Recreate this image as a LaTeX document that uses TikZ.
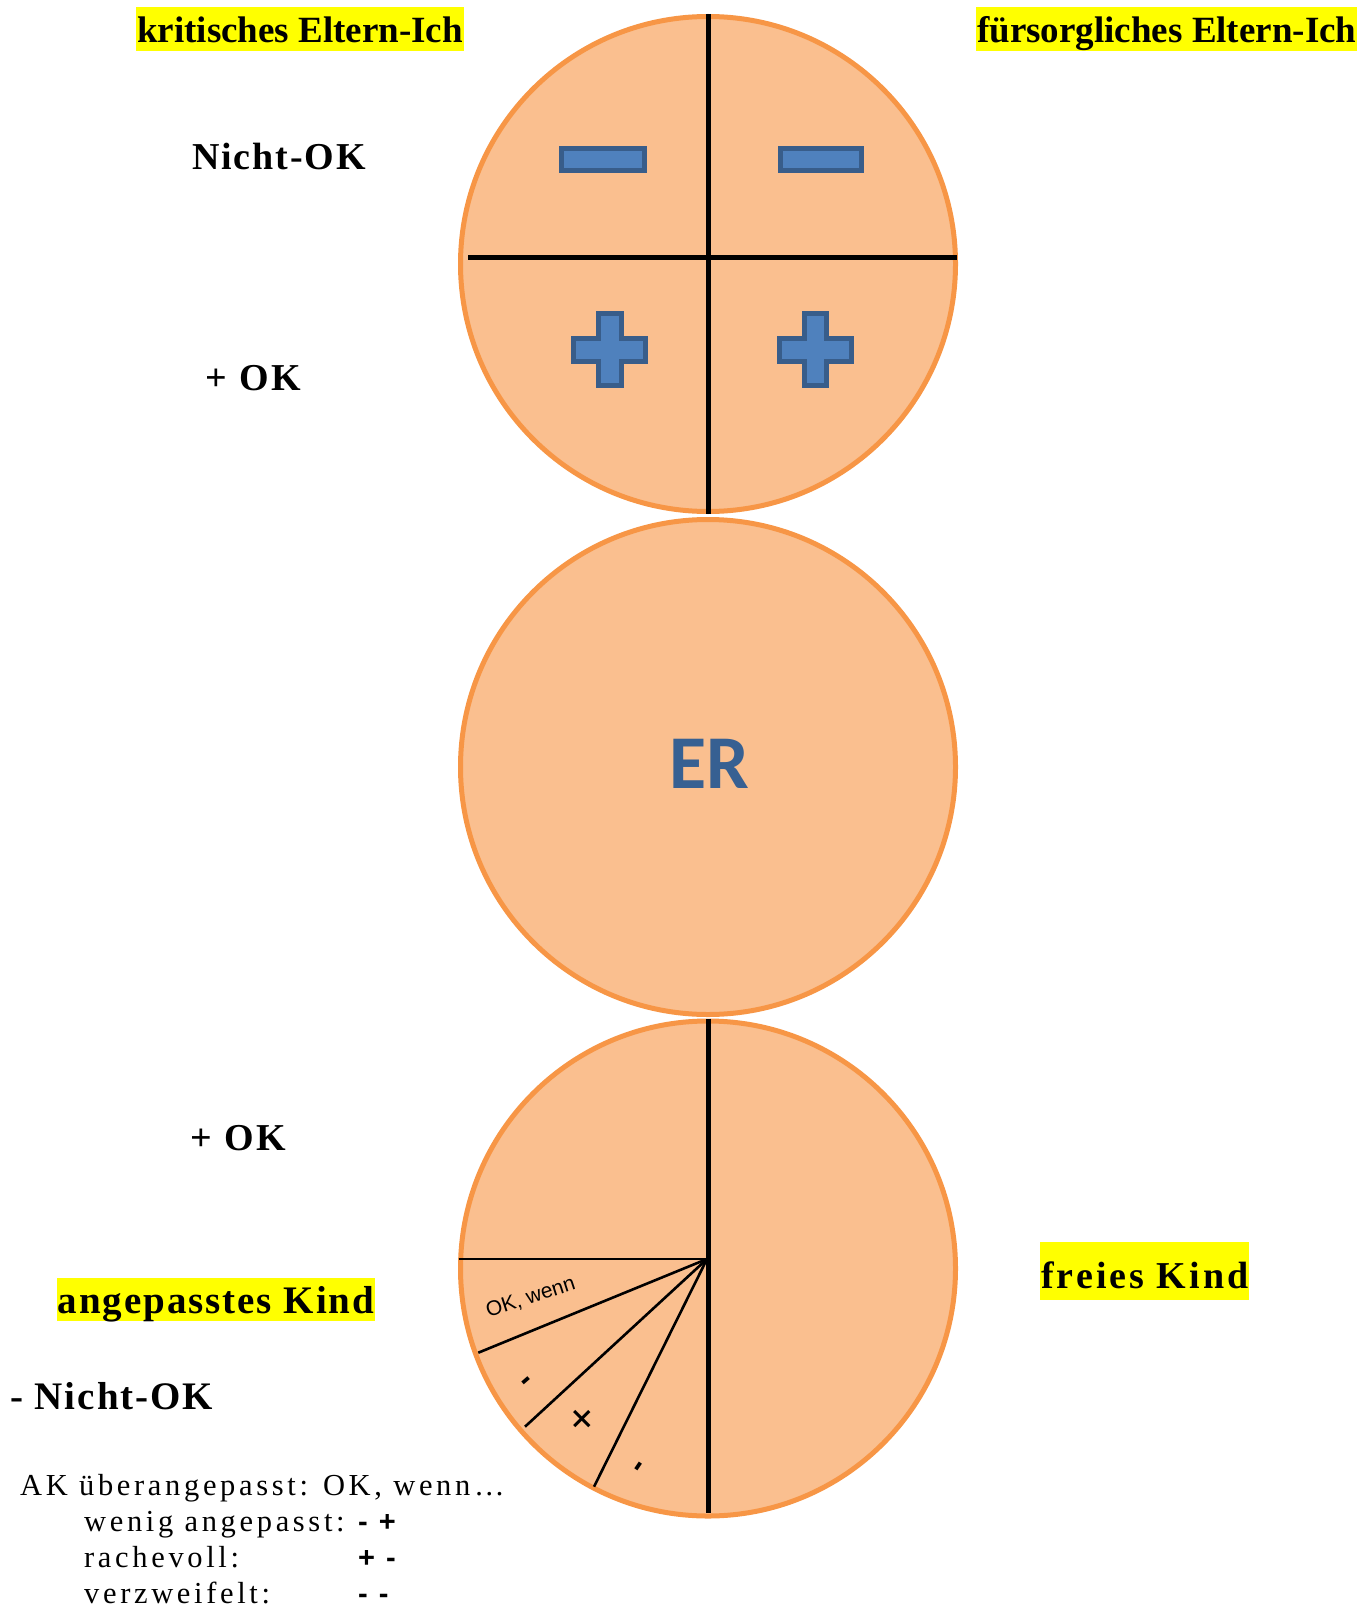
\documentclass[tikz,border=0pt]{standalone}
\usepackage{fontspec}
\setmainfont{Liberation Serif}
\newfontfamily\trackedserif[LetterSpace=5]{Liberation Serif}
\newfontfamily\widerserif[LetterSpace=8]{Liberation Serif}
\newfontfamily\looseserif[LetterSpace=12]{Liberation Serif}
\newfontfamily\labelsans{Liberation Sans}
\newfontfamily\ersans{Carlito}

\definecolor{ringfill}{RGB}{250,191,143}
\definecolor{ringline}{RGB}{247,150,70}
\definecolor{signfill}{RGB}{79,129,189}
\definecolor{signline}{RGB}{56,93,138}
\definecolor{ertext}{RGB}{55,96,146}
\definecolor{marker}{RGB}{255,255,0}

\tikzset{
  ring/.style={circle, draw=ringline, fill=ringfill, line width=5pt,
               minimum size=495pt, inner sep=0pt},
  divider/.style={line width=5pt},
  spoke/.style={line width=2.6pt},
  sign/.style={fill=signfill, draw=signline, line width=5pt},
  lbl/.style={inner sep=0pt, anchor=base west},
  hl/.style={lbl, fill=marker, inner xsep=1pt},
}

\begin{document}
\begin{tikzpicture}[x=1pt, y=-1pt]
\useasboundingbox (0,0) rectangle (1371,1605);

% --- the three ego states ---
\node[ring] (pe) at (708,264) {};
\node[ring] (er) at (708,767) {};
\node[inner sep=0pt] (ert) at (709.5,764)
  {\ersans\bfseries\fontsize{76}{80}\selectfont\color{ertext}ER};
\node[ring] (ck) at (708,1268.5) {};

% parent ego: four quadrants
\coordinate (peL) at (468,258);
\coordinate (peR) at (957,258);
\draw[divider] (pe.north) -- (pe.south);
\draw[divider] (peL) -- (peR);

% minus signs (upper quadrants)
\draw[sign] (561.5,148.5) rectangle (644.5,170.5);
\draw[sign] (780.5,148.5) rectangle (861.5,170.5);
% plus signs (lower quadrants)
\draw[sign] (598.5,313.5) -- (621.5,313.5) -- (621.5,338.5) -- (645.5,338.5)
  -- (645.5,361.5) -- (621.5,361.5) -- (621.5,385.5) -- (598.5,385.5)
  -- (598.5,361.5) -- (573.5,361.5) -- (573.5,338.5) -- (598.5,338.5) -- cycle;
\draw[sign] (804.5,313.5) -- (826.5,313.5) -- (826.5,338.5) -- (851.5,338.5)
  -- (851.5,361.5) -- (826.5,361.5) -- (826.5,385.5) -- (804.5,385.5)
  -- (804.5,361.5) -- (779.5,361.5) -- (779.5,338.5) -- (804.5,338.5) -- cycle;

% child ego: halves and the fan of the adapted child
\coordinate (ckB) at (708,1513);
\coordinate (hub) at (707,1259);
\coordinate (fanH) at (458.5,1259);
\coordinate (fanA) at (478.3,1352.7);
\coordinate (fanB) at (525,1426.7);
\coordinate (fanC) at (594,1486.7);
\draw[divider] (ck.north) -- (ckB);
\draw[spoke] (fanH) -- (hub);
\draw[spoke] (hub) -- (fanA);
\draw[spoke] (hub) -- (fanB);
\draw[spoke] (hub) -- (fanC);

\node[inner sep=0pt, rotate=18] (okw) at (530.7,1297.5)
  {\labelsans\fontsize{21}{24}\selectfont OK, wenn};
\node[inner sep=0pt, rotate=41] (mk1) at (528,1383)
  {\labelsans\bfseries\fontsize{32}{34}\selectfont -};
\node[inner sep=0pt, rotate=45] (mk2) at (584,1420)
  {\labelsans\fontsize{44}{46}\selectfont +};
\node[inner sep=0pt, rotate=56] (mk3) at (641,1468)
  {\labelsans\bfseries\fontsize{32}{34}\selectfont -};

% --- labels ---
\node[hl, text height=36pt, text depth=8pt] (kel) at (136,42.7)
  {\bfseries\fontsize{37}{44}\selectfont kritisches Eltern-Ich};
\node[hl, text height=36pt, text depth=8pt] (fel) at (976,42.7)
  {\bfseries\fontsize{37}{44}\selectfont fürsorgliches Eltern-Ich};

\node[lbl] (nok) at (192,169.3)
  {\trackedserif\bfseries\fontsize{38}{44}\selectfont Nicht-OK};
\node[lbl] (pok) at (205,390)
  {\widerserif\bfseries\fontsize{38}{44}\selectfont + OK};
\node[lbl] (cok) at (190,1150)
  {\widerserif\bfseries\fontsize{38}{44}\selectfont + OK};

\node[hl, text height=46.3pt, text depth=12pt] (fk) at (1040,1288)
  {\widerserif\bfseries\fontsize{38}{44}\selectfont freies Kind};
\node[hl, text height=35.3pt, text depth=7.7pt] (ak) at (56.5,1313.3)
  {\trackedserif\bfseries\fontsize{39}{44}\selectfont angepasstes Kind};
\node[lbl] (mnok) at (10,1409)
  {\trackedserif\bfseries\fontsize{39}{44}\selectfont - Nicht-OK};

% adapted child variants
\node[lbl] (v0) at (20,1495)
  {\looseserif\fontsize{30.5}{32}\selectfont AK überangepasst: OK, wenn…};
\node[lbl] (v1) at (84,1531)
  {\looseserif\fontsize{30.5}{32}\selectfont wenig angepasst:};
\node[lbl] (v2) at (84,1567)
  {\looseserif\fontsize{30.5}{32}\selectfont rachevoll:};
\node[lbl] (v3) at (84,1603)
  {\looseserif\fontsize{30.5}{32}\selectfont verzweifelt:};
\node[lbl] (s1) at (358,1531)
  {\labelsans\bfseries\fontsize{29}{32}\selectfont -\hspace{11pt}+};
\node[lbl] (s2) at (358,1567)
  {\labelsans\bfseries\fontsize{29}{32}\selectfont +\hspace{11pt}-};
\node[lbl] (s3) at (358,1603)
  {\labelsans\bfseries\fontsize{29}{32}\selectfont -\hspace{11pt}-};
\end{tikzpicture}
\end{document}
